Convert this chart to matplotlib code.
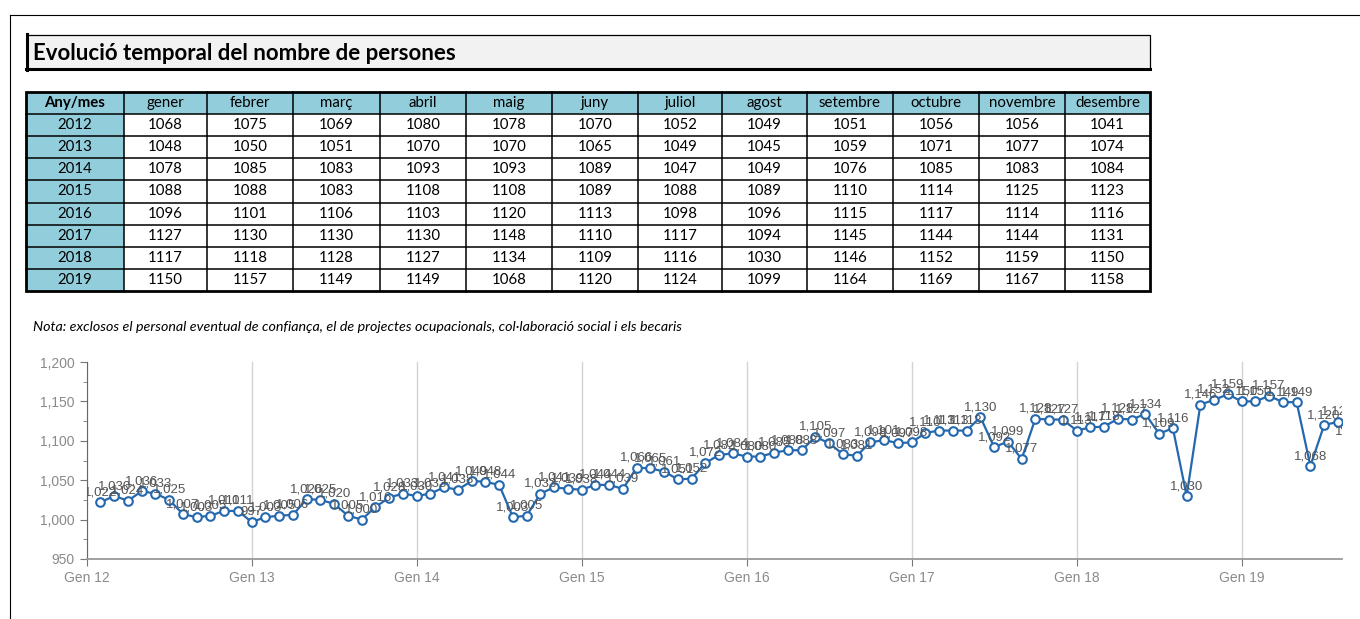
import matplotlib
matplotlib.use('Agg')
import matplotlib.pyplot as plt
from matplotlib.patches import Rectangle
from matplotlib.ticker import MultipleLocator, FuncFormatter
import numpy as np

plt.rcParams['font.family'] = ['Liberation Sans', 'DejaVu Sans']

# dades de la taula
titol = 'Evolució temporal del nombre de persones'
nota = ('Nota: exclosos el personal eventual de confiança, el de projectes ocupacionals, '
        'col·laboració social i els becaris')
capcalera = 'Any/mes'
mesos = ['gener', 'febrer', 'març', 'abril', 'maig', 'juny', 'juliol', 'agost',
         'setembre', 'octubre', 'novembre', 'desembre']
anys = [2012, 2013, 2014, 2015, 2016, 2017, 2018, 2019]
taula_2012 = [1068, 1075, 1069, 1080, 1078, 1070, 1052, 1049, 1051, 1056, 1056, 1041]
taula_2013 = [1048, 1050, 1051, 1070, 1070, 1065, 1049, 1045, 1059, 1071, 1077, 1074]
taula_2014 = [1078, 1085, 1083, 1093, 1093, 1089, 1047, 1049, 1076, 1085, 1083, 1084]
taula_2015 = [1088, 1088, 1083, 1108, 1108, 1089, 1088, 1089, 1110, 1114, 1125, 1123]
taula_2016 = [1096, 1101, 1106, 1103, 1120, 1113, 1098, 1096, 1115, 1117, 1114, 1116]
taula_2017 = [1127, 1130, 1130, 1130, 1148, 1110, 1117, 1094, 1145, 1144, 1144, 1131]
taula_2018 = [1117, 1118, 1128, 1127, 1134, 1109, 1116, 1030, 1146, 1152, 1159, 1150]
taula_2019 = [1150, 1157, 1149, 1149, 1068, 1120, 1124, 1099, 1164, 1169, 1167, 1158]
taula = [taula_2012, taula_2013, taula_2014, taula_2015,
         taula_2016, taula_2017, taula_2018, taula_2019]

# dades del grafic (valor de final de mes, llegit del grafic)
graf_2012 = [1022, 1030, 1024, 1036, 1033, 1025, 1007, 1003, 1005, 1011, 1011, 997]
graf_2013 = [1003, 1005, 1006, 1026, 1025, 1020, 1005, 1000, 1016, 1028, 1033, 1030]
graf_2014 = [1033, 1041, 1038, 1049, 1048, 1044, 1003, 1005, 1033, 1041, 1039, 1038]
graf_2015 = [1044, 1044, 1039, 1066, 1065, 1061, 1051, 1052, 1072, 1082, 1084, 1080]
graf_2016 = [1080, 1085, 1088, 1088, 1105, 1097, 1083, 1081, 1098, 1101, 1097, 1098]
graf_2017 = [1110, 1113, 1113, 1113, 1130, 1092, 1099, 1077, 1128, 1127, 1127, 1113]
graf_2018 = [1117, 1118, 1128, 1127, 1134, 1109, 1116, 1030, 1146, 1152, 1159, 1150]
graf_2019 = [1150, 1157, 1149, 1149, 1068, 1120, 1124, 1099]
graf_ticks = ['Gen 12', 'Gen 13', 'Gen 14', 'Gen 15', 'Gen 16', 'Gen 17', 'Gen 18', 'Gen 19']

W, H = 1360, 619
fig = plt.figure(figsize=(W / 100, H / 100), dpi=100)

# capa de fons en pixels per al marc, el titol i la taula
bg = fig.add_axes([0, 0, 1, 1])
bg.set_xlim(0, W)
bg.set_ylim(H, 0)
bg.axis('off')

# marc exterior
bg.plot([10, W], [15, 15], color='black', lw=0.8)
bg.plot([10, 10], [15, H], color='black', lw=0.8)

# caixa del titol
bg.add_patch(Rectangle((27, 35), 1123, 34, facecolor='#f2f2f2', edgecolor='black', lw=0.9))
bg.plot([27, 27], [34, 70], color='black', lw=2.2)
bg.plot([26, 1150], [69, 69], color='black', lw=2.2)
bg.text(33, 53, titol, fontsize=16, fontweight='bold', va='center', ha='left',
        family=['Lato', 'DejaVu Sans'])

# taula
col_x = [26, 124, 207, 293, 380, 466, 552, 638, 722, 807, 893, 979, 1065, 1150]
row_y = 92 + 22.1 * np.arange(len(anys) + 2)
blau = '#92cddc'
bg.add_patch(Rectangle((col_x[0], row_y[0]), col_x[-1] - col_x[0], row_y[1] - row_y[0],
                       facecolor=blau, edgecolor='none'))
bg.add_patch(Rectangle((col_x[0], row_y[1]), col_x[1] - col_x[0], row_y[-1] - row_y[1],
                       facecolor=blau, edgecolor='none'))
for xx in col_x[1:-1]:
    bg.plot([xx, xx], [row_y[0], row_y[-1]], color='black', lw=1.1)
for yy in row_y[1:-1]:
    bg.plot([col_x[0], col_x[-1]], [yy, yy], color='black', lw=1.1)
bg.add_patch(Rectangle((col_x[0], row_y[0]), col_x[-1] - col_x[0], row_y[-1] - row_y[0],
                       facecolor='none', edgecolor='black', lw=2.0))

tfont = ['Lato', 'DejaVu Sans']
cx = [(col_x[i] + col_x[i + 1]) / 2 for i in range(len(col_x) - 1)]
cy = [(row_y[i] + row_y[i + 1]) / 2 for i in range(len(row_y) - 1)]
bg.text(cx[0], cy[0], capcalera, ha='center', va='center', fontsize=10.8,
        fontweight='bold', family=tfont)
for j, m in enumerate(mesos):
    bg.text(cx[j + 1], cy[0], m, ha='center', va='center', fontsize=10.8, family=tfont)
for i, (a, fila) in enumerate(zip(anys, taula)):
    bg.text(cx[0], cy[i + 1], str(a), ha='center', va='center', fontsize=10.8, family=tfont)
    for j, v in enumerate(fila):
        bg.text(cx[j + 1], cy[i + 1], str(v), ha='center', va='center', fontsize=10.8,
                family=tfont)

# nota
bg.text(33, 327, nota, fontsize=10.3, style='italic', va='center', ha='left', family=tfont)

# grafic
serie = graf_2012 + graf_2013 + graf_2014 + graf_2015 + graf_2016 + graf_2017 + graf_2018 + graf_2019
x = np.arange(1, len(serie) + 1)

left, right, top, bottom = 86.7, 1342, 362, 559
ax = fig.add_axes([left / W, 1 - bottom / H, (right - left) / W, (bottom - top) / H])
ax.patch.set_alpha(0)
blau_linia = '#2468ad'
ax.plot(x, serie, color=blau_linia, lw=1.6, marker='o', ms=6.2, mfc='white',
        mec=blau_linia, mew=1.5, zorder=3)
for xi, v in zip(x, serie):
    ax.text(xi, v + 5, f'{v:,}', ha='center', va='bottom', fontsize=9.5,
            color='#555555', clip_on=True, zorder=4)

ax.set_xlim(0, 91.3)
ax.set_ylim(950, 1200)
ax.set_xticks(np.arange(0, 12 * len(graf_ticks), 12))
ax.set_xticklabels(graf_ticks)
ax.yaxis.set_major_locator(MultipleLocator(50))
ax.yaxis.set_minor_locator(MultipleLocator(25))
ax.yaxis.set_major_formatter(FuncFormatter(lambda v, p: f'{v:,.0f}'))
ax.xaxis.grid(True, color='#d4d4d4', lw=1)
ax.set_axisbelow(True)
for s in ['top', 'right']:
    ax.spines[s].set_visible(False)
ax.spines['left'].set_color('#666666')
ax.spines['bottom'].set_color('#999999')
ax.spines['bottom'].set_linewidth(1.3)
ax.tick_params(axis='both', which='major', labelsize=10, labelcolor='#8a8a8a',
               color='#777777', length=5)
ax.tick_params(axis='y', which='minor', color='#777777', length=3)

fig.savefig('out.png', dpi=100)
